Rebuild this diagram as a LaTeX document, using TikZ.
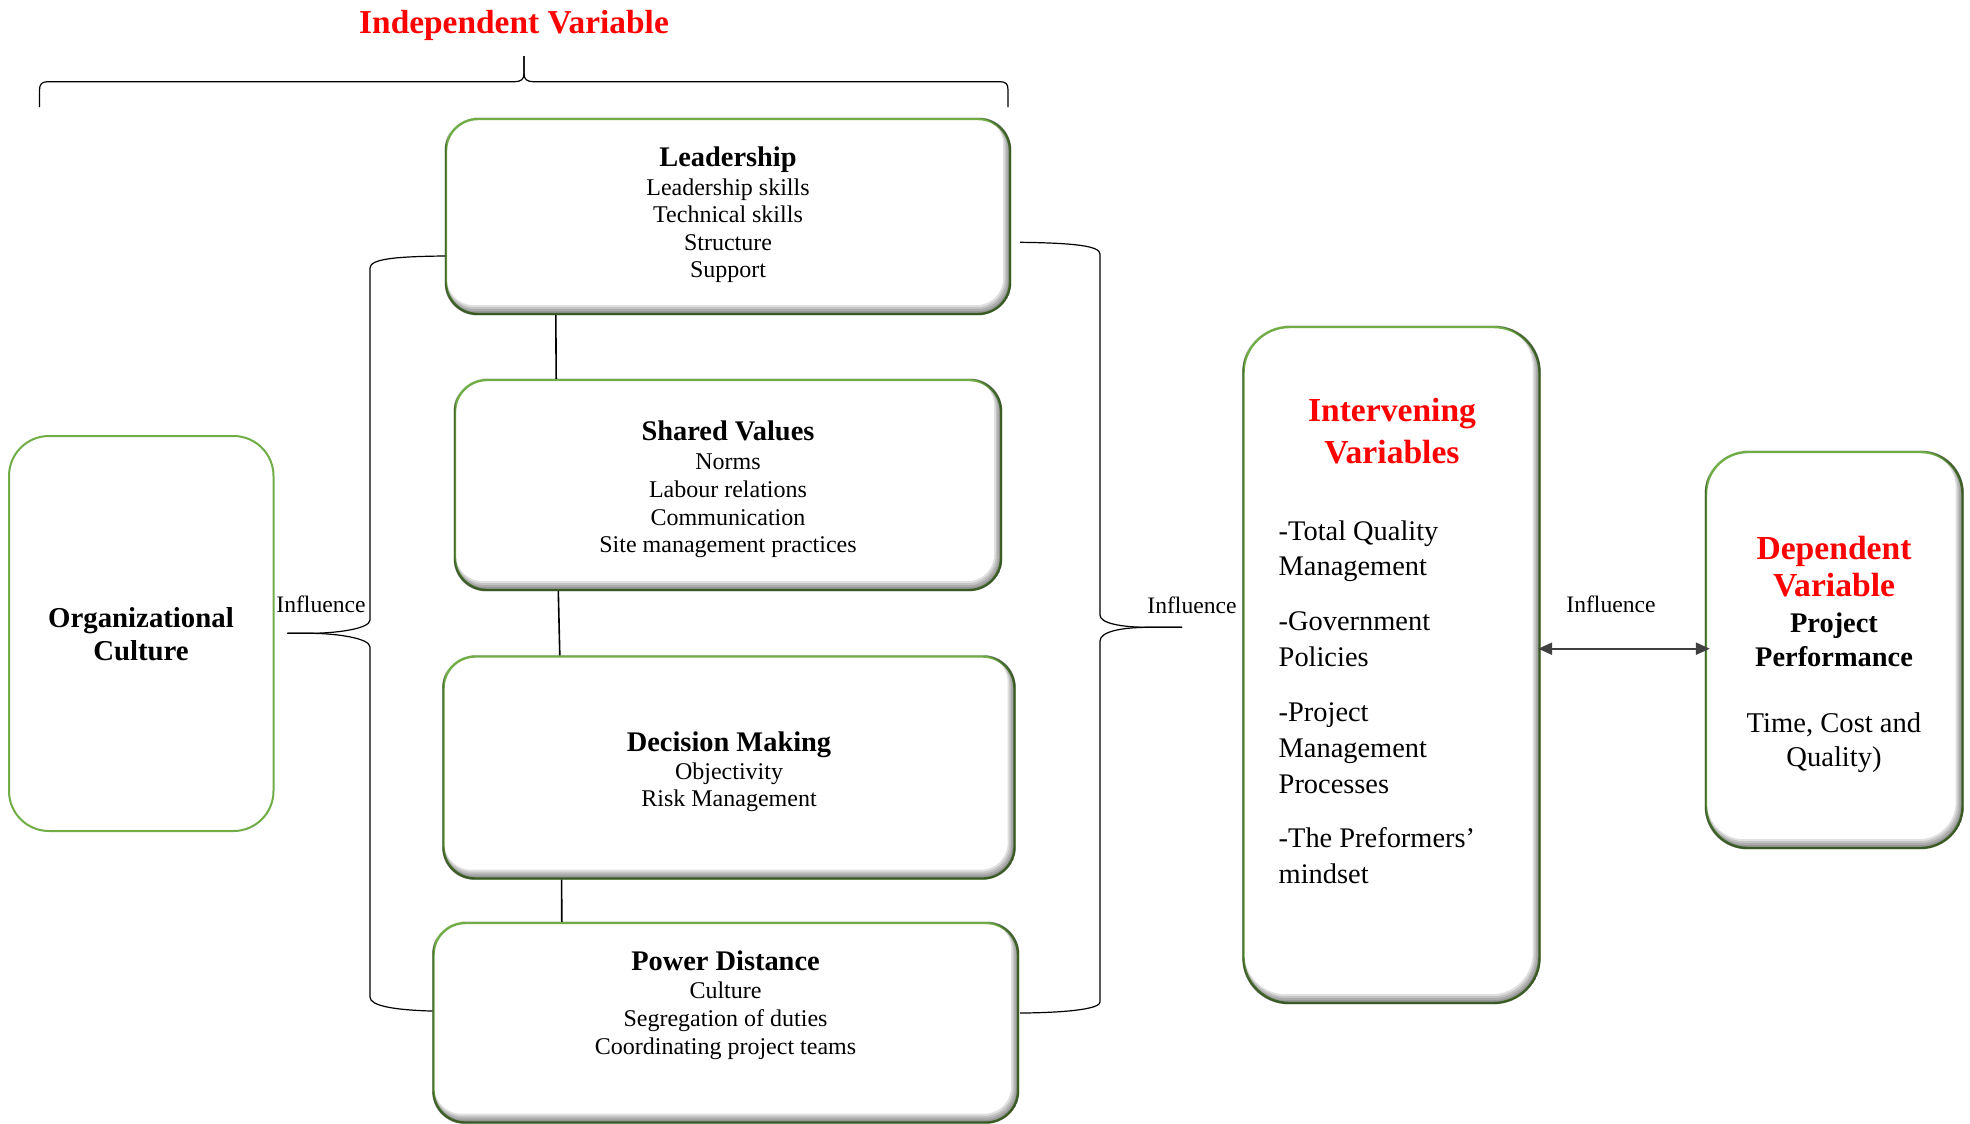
\documentclass[tikz,border=0pt]{standalone}
\usepackage{fontspec}
\setmainfont{Liberation Serif}
\usetikzlibrary{calc,arrows.meta}
\definecolor{boxgreen}{RGB}{112,173,71}
\definecolor{arrowgray}{RGB}{64,64,64}
\newcommand\innershade[2]{%
  \begin{scope}
    \clip[rounded corners=#2] (#1.south west) rectangle (#1.north east);
    \foreach \d in {0.5,1,1.5,2,2.5}{
      \draw[black, opacity=0.12, line width=2*\d pt, rounded corners=#2]
        ([xshift=-0.6*\d pt, yshift=\d pt]#1.south west) rectangle ([xshift=-0.6*\d pt, yshift=\d pt]#1.north east);
    }
  \end{scope}}
\begin{document}
\begin{tikzpicture}[x=0.5pt,y=-0.5pt,
  vbox/.style={draw=boxgreen, line width=1.2pt, fill=white, inner sep=0pt},
  orgbox/.style={draw=boxgreen, line width=1pt, fill=white, inner sep=0pt, rounded corners=20pt},
  body/.style={font=\fontsize{12}{14}\selectfont, inner sep=0pt, anchor=base},
  head/.style={font=\fontsize{14.2}{15}\selectfont\bfseries, inner sep=0pt, anchor=base},
  bighead/.style={font=\fontsize{14.4}{16}\selectfont\bfseries, inner sep=0pt, anchor=base},
  redhead/.style={font=\fontsize{16.8}{18}\selectfont\bfseries, text=red, inner sep=0pt, anchor=base},
  item/.style={font=\fontsize{14.2}{16}\selectfont, inner sep=0pt, anchor=base west},
  ctext/.style={font=\fontsize{14.3}{16}\selectfont, inner sep=0pt, anchor=base},
  infl/.style={font=\fontsize{11.8}{13}\selectfont, inner sep=0pt, anchor=base},
  brace/.style={line width=0.6pt, black},
  link/.style={line width=0.8pt, black},
  arr/.style={{Triangle[length=7pt,width=6pt]}-{Triangle[length=7pt,width=6pt]}, line width=1.15pt, draw=arrowgray, fill=arrowgray}
]
\useasboundingbox (0,0) rectangle (1970,1124);
\fill[white] (0,0) rectangle (1970,1124);

% title
\node[font=\fontsize{16.7}{18}\selectfont\bfseries, text=red, anchor=base, inner sep=0pt] (title) at (514,33.4) {Independent Variable};

% top brace
\coordinate (tbL) at (39.5,107);
\coordinate (tbR) at (1008,107);
\coordinate (tbT) at (524,56.2);
\draw[brace] (tbL) -- (39.5,90) .. controls (39.5,84) and (42,81.7) .. (48,81.7) -- (515,81.7)
  .. controls (521,81.7) and (524,79) .. (524,74) -- (tbT);
\draw[brace] (tbT) -- (524,74) .. controls (524,79) and (527,81.7) .. (533,81.7) -- (1000,81.7)
  .. controls (1006,81.7) and (1008,84) .. (1008,90) -- (tbR);

% boxes
\node[vbox, rounded corners=16pt, minimum width=282pt, minimum height=97.5pt] (lead) at (728,216.5) {};
\node[vbox, rounded corners=16pt, minimum width=273pt, minimum height=105pt] (shared) at (728,485) {};
\node[vbox, rounded corners=16pt, minimum width=285.5pt, minimum height=111pt] (dec) at (729,767.5) {};
\node[vbox, rounded corners=16pt, minimum width=292.25pt, minimum height=99.75pt] (pow) at (725.75,1022.75) {};
\node[orgbox, minimum width=132.25pt, minimum height=197.5pt] (org) at (141.25,633.5) {};
\node[vbox, rounded corners=23pt, minimum width=148pt, minimum height=338pt] (interv) at (1391.5,665) {};
\node[vbox, rounded corners=21pt, minimum width=128.25pt, minimum height=198pt] (dep) at (1834.25,650) {};

\innershade{lead}{16pt}
\innershade{shared}{16pt}
\innershade{dec}{16pt}
\innershade{pow}{16pt}
\innershade{interv}{23pt}
\innershade{dep}{21pt}

% vertical links
\draw[link] ($(lead.south west)+(111,0)$) -- ($(shared.north west)+(102.4,0)$);
\draw[link] ($(shared.south west)+(104.5,0)$) -- ($(dec.north west)+(117.5,0)$);
\draw[link] ($(dec.south west)+(119.3,0)$) -- ($(pow.north west)+(129.5,0)$);

% left brace
\coordinate (lbT) at (287.3,633.3);
\draw[brace] ($(lead.west)+(0,39.5)$) .. controls (395,256.5) and (370,259) .. (370,268) -- (370,620)
  .. controls (370,629) and (335,633.3) .. (310,633.3) -- (lbT);
\draw[brace] (lbT) -- (310,633.3) .. controls (335,633.3) and (370,638) .. (370,647) -- (370,997)
  .. controls (370,1006) and (395,1010) .. ($(pow.west)+(0,-11.7)$);

% right brace
\coordinate (rbT) at (1182,627.3);
\draw[brace] ($(lead.east)+(9,25.8)$) .. controls (1075,243) and (1100,246) .. (1100,254) -- (1100,615)
  .. controls (1100,623) and (1120,627.3) .. (1149,627.3) -- (rbT);
\draw[brace] (rbT) -- (1149,627.3) .. controls (1120,627.3) and (1100,632) .. (1100,641) -- (1100,1002)
  .. controls (1100,1008) and (1075,1012.5) .. ($(pow.east)+(1,-9.7)$);

% arrow
\draw[arr] ($(interv.east)+(-2.5,-16.3)$) -- ($(dep.west)+(5,-1.3)$);

% influence labels
\node[infl] (inf1) at (321,612.7) {Influence};
\node[infl] (inf2) at (1192,613.3) {Influence};
\node[infl] (inf3) at (1611,612.7) {Influence};

% Leadership text
\node[head] (leadH) at (728,166) {Leadership};
\node[body] (lead1) at (728,195) {Leadership skills};
\node[body] (lead2) at (728,222.4) {Technical skills};
\node[body] (lead3) at (728,250) {Structure};
\node[body] (lead4) at (728,277.6) {Support};

% Shared values text
\node[head] (shH) at (728,440.4) {Shared Values};
\node[body] (sh1) at (728,469) {Norms};
\node[body] (sh2) at (728,497.5) {Labour relations};
\node[body] (sh3) at (728,525) {Communication};
\node[body] (sh4) at (728,552.9) {Site management practices};

% Decision making text
\node[head] (decH) at (729,751) {Decision Making};
\node[body] (dec1) at (729,779.6) {Objectivity};
\node[body] (dec2) at (729,806.4) {Risk Management};

% Power distance text
\node[head] (powH) at (725.5,970.7) {Power Distance};
\node[body] (pow1) at (725.5,998.3) {Culture};
\node[body] (pow2) at (725.5,1026) {Segregation of duties};
\node[body] (pow3) at (725.5,1054) {Coordinating project teams};

% Organizational culture
\node[bighead] (org1) at (141,627.3) {Organizational};
\node[bighead] (org2) at (141,660) {Culture};

% Intervening
\node[redhead] (intH1) at (1392,421.7) {Intervening};
\node[redhead] (intH2) at (1392,463.3) {Variables};
\node[item] (it1) at (1278.3,540) {-Total Quality};
\node[item] (it2) at (1278.3,575) {Management};
\node[item] (it3) at (1278.3,630) {-Government};
\node[item] (it4) at (1278.3,666) {Policies};
\node[item] (it5) at (1278.3,721.7) {-Project};
\node[item] (it6) at (1278.3,757.7) {Management};
\node[item] (it7) at (1278.3,793.3) {Processes};
\node[item] (it8) at (1278.3,847.3) {-The Preformers’};
\node[item] (it9) at (1278.3,883.3) {mindset};

% Dependent
\node[redhead] (depH1) at (1834,559.3) {Dependent};
\node[redhead] (depH2) at (1834,596.7) {Variable};
\node[head] (dep1) at (1834,632.3) {Project};
\node[head] (dep2) at (1834,666) {Performance};
\node[ctext] (dep3) at (1834,732.7) {Time, Cost and};
\node[ctext] (dep4) at (1834,766.7) {Quality)};
\end{tikzpicture}
\end{document}
